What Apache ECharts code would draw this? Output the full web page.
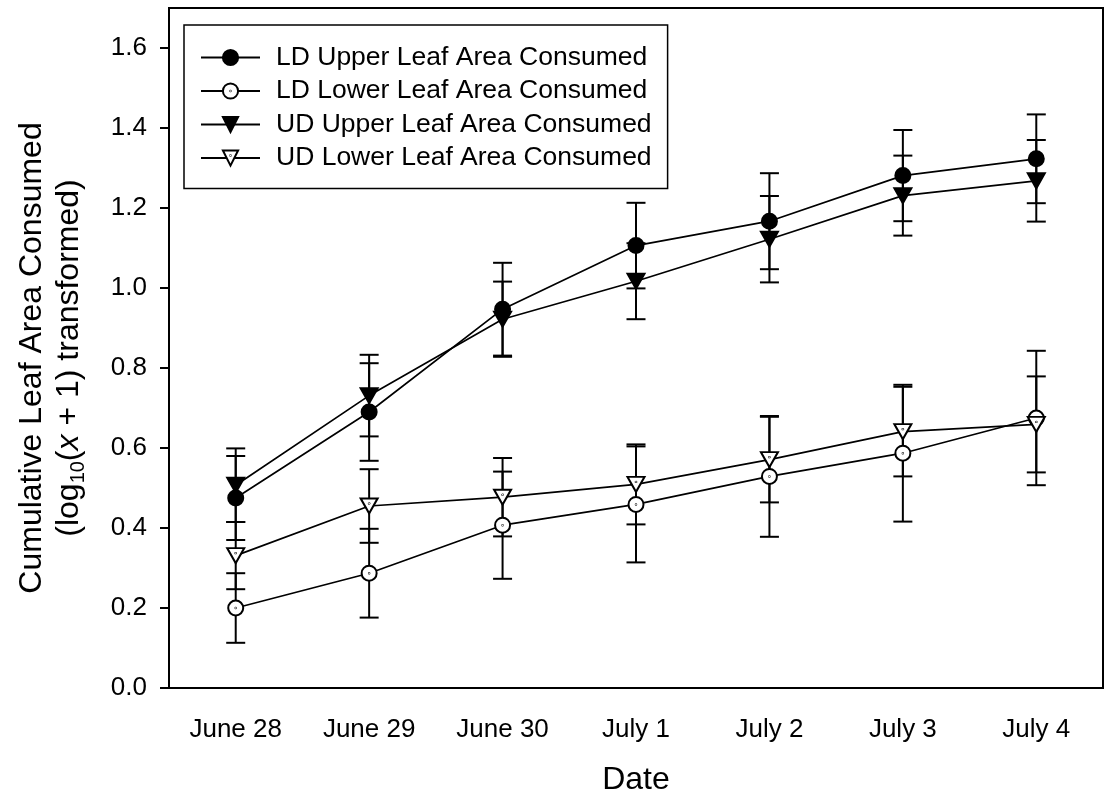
<!DOCTYPE html>
<html>
<head>
<meta charset="utf-8">
<script src="https://cdn.jsdelivr.net/npm/echarts@6/dist/echarts.min.js"></script>
<style>
html,body{margin:0;padding:0;background:#fff;}
#chart{width:1105px;height:798px;}
</style>
</head>
<body>
<div id="chart"></div>
<script>
const categories = ['June 28','June 29','June 30','July 1','July 2','July 3','July 4'];
const ldUpper    = [0.475, 0.690, 0.947, 1.106, 1.167, 1.281, 1.323];
const ldUpperErr = [0.105, 0.122, 0.116, 0.107, 0.120, 0.114, 0.111];
const ldLower    = [0.200, 0.287, 0.407, 0.459, 0.529, 0.587, 0.675];
const ldLowerErr = [0.087, 0.111, 0.134, 0.145, 0.151, 0.171, 0.168];
const udUpper    = [0.507, 0.731, 0.922, 1.017, 1.122, 1.231, 1.268];
const udUpperErr = [0.092, 0.102, 0.094, 0.095, 0.108, 0.100, 0.102];
const udLower    = [0.331, 0.455, 0.477, 0.509, 0.571, 0.641, 0.659];
const udLowerErr = [0.084, 0.092, 0.098, 0.100, 0.107, 0.112, 0.120];
const yTicks = [0, 0.2, 0.4, 0.6, 0.8, 1.0, 1.2, 1.4, 1.6];
const seriesNames = ['LD Upper Leaf Area Consumed','LD Lower Leaf Area Consumed','UD Upper Leaf Area Consumed','UD Lower Leaf Area Consumed'];

const FONT = '"Liberation Sans", Arial, Helvetica, sans-serif';
const circlePath = 'path://M10,0 A10,10 0 1,1 10,20 A10,10 0 1,1 10,0 Z';
const openCirclePath = 'path://M10,0 A10,10 0 1,1 10,20 A10,10 0 1,1 10,0 Z M10,9.7 A0.3,0.3 0 1,1 10,10.3 A0.3,0.3 0 1,1 10,9.7 Z';
const triPath = 'path://M0,0 L20,0 L10,17.6 Z';
const openTriPath = 'path://M0,0 L20,0 L10,17.6 Z M10,5.6 A0.3,0.3 0 1,1 10,6.2 A0.3,0.3 0 1,1 10,5.6 Z';

const allVals = [ldUpper, ldLower, udUpper, udLower];
const allErrs = [ldUpperErr, ldLowerErr, udUpperErr, udLowerErr];
const errData = [];
allVals.forEach((vals, s) => {
  vals.forEach((v, i) => {
    errData.push([i, v - allErrs[s][i], v + allErrs[s][i]]);
  });
});

function renderErr(params, api) {
  const i = api.value(0);
  const lo = api.coord([i, api.value(1)]);
  const hi = api.coord([i, api.value(2)]);
  const hw = 9.5;
  const st = {stroke: '#000', lineWidth: 2, fill: null};
  return {
    type: 'group',
    children: [
      {type: 'line', shape: {x1: lo[0], y1: lo[1], x2: hi[0], y2: hi[1]}, style: st},
      {type: 'line', shape: {x1: lo[0]-hw, y1: lo[1], x2: lo[0]+hw, y2: lo[1]}, style: st},
      {type: 'line', shape: {x1: hi[0]-hw, y1: hi[1], x2: hi[0]+hw, y2: hi[1]}, style: st}
    ]
  };
}

function lineSeries(name, data, symbol, size, fill) {
  return {
    name: name,
    type: 'line',
    data: data,
    z: 3,
    symbol: symbol,
    symbolSize: size,
    showAllSymbol: true,
    lineStyle: {color: '#000', width: 1.7},
    itemStyle: {color: fill, borderColor: '#000', borderWidth: 2},
    emphasis: {disabled: true},
    animation: false
  };
}

const chart = echarts.init(document.getElementById('chart'), null, {renderer: 'canvas'});
chart.setOption({
  backgroundColor: '#fff',
  animation: false,
  grid: {left: 169, right: 2, top: 8, bottom: 110, show: true, borderColor: '#000', borderWidth: 2,
    containLabel: false, outerBoundsMode: 'none'},
  legend: {
    orient: 'vertical',
    left: 184, top: 25,
    padding: [19, 16, 17, 16],
    itemGap: 6.5,
    itemWidth: 59,
    itemHeight: 19,
    borderColor: '#000', borderWidth: 1.5, borderRadius: 0,
    backgroundColor: '#fff',
    selectedMode: false,
    data: seriesNames,
    textStyle: {fontFamily: FONT, fontSize: 26.5, color: '#000', lineHeight: 26, padding: [0, 0, 0, 11]}
  },
  xAxis: {
    type: 'category',
    data: categories,
    boundaryGap: true,
    name: 'Date',
    nameLocation: 'middle',
    nameGap: 76,
    nameTextStyle: {fontFamily: FONT, fontSize: 32, color: '#000'},
    axisLine: {lineStyle: {color: '#000', width: 2}},
    axisTick: {alignWithLabel: true, length: 9, lineStyle: {color: '#000', width: 2}},
    axisLabel: {fontFamily: FONT, fontSize: 26, color: '#000', margin: 29},
    splitLine: {show: false}
  },
  yAxis: {
    type: 'value',
    min: 0, max: 1.7, interval: 0.2,
    axisLine: {show: true, lineStyle: {color: '#000', width: 2}},
    axisTick: {show: true, length: 9, lineStyle: {color: '#000', width: 2}, customValues: yTicks},
    axisLabel: {fontFamily: FONT, fontSize: 26, color: '#000', margin: 22, customValues: yTicks,
      formatter: v => Number(v).toFixed(1)},
    splitLine: {show: false}
  },
  graphic: [{
    type: 'text',
    x: 51, y: 358,
    rotation: Math.PI / 2,
    style: {
      text: '{t|Cumulative Leaf Area Consumed}\n{t|(log}{s|10}{t|(}{i|x}{t| + 1) transformed)}',
      align: 'center', verticalAlign: 'middle',
      fill: '#000',
      font: '32px ' + FONT,
      rich: {
        t: {fontFamily: FONT, fontSize: 32, lineHeight: 37, fill: '#000'},
        i: {fontFamily: FONT, fontSize: 32, lineHeight: 37, fontStyle: 'italic', fill: '#000'},
        s: {fontFamily: FONT, fontSize: 20, lineHeight: 20, verticalAlign: 'bottom', fill: '#000'}
      }
    }
  }],
  series: [
    {
      type: 'custom',
      name: 'errbars',
      renderItem: renderErr,
      data: errData,
      z: 1,
      silent: true,
      encode: {x: 0, y: [1, 2]},
      animation: false
    },
    lineSeries(seriesNames[0], ldUpper, circlePath, 15, '#000'),
    lineSeries(seriesNames[1], ldLower, openCirclePath, 15, '#fff'),
    lineSeries(seriesNames[2], udUpper, triPath, [17, 15], '#000'),
    lineSeries(seriesNames[3], udLower, openTriPath, [17, 15], '#fff')
  ]
});
</script>
</body>
</html>
